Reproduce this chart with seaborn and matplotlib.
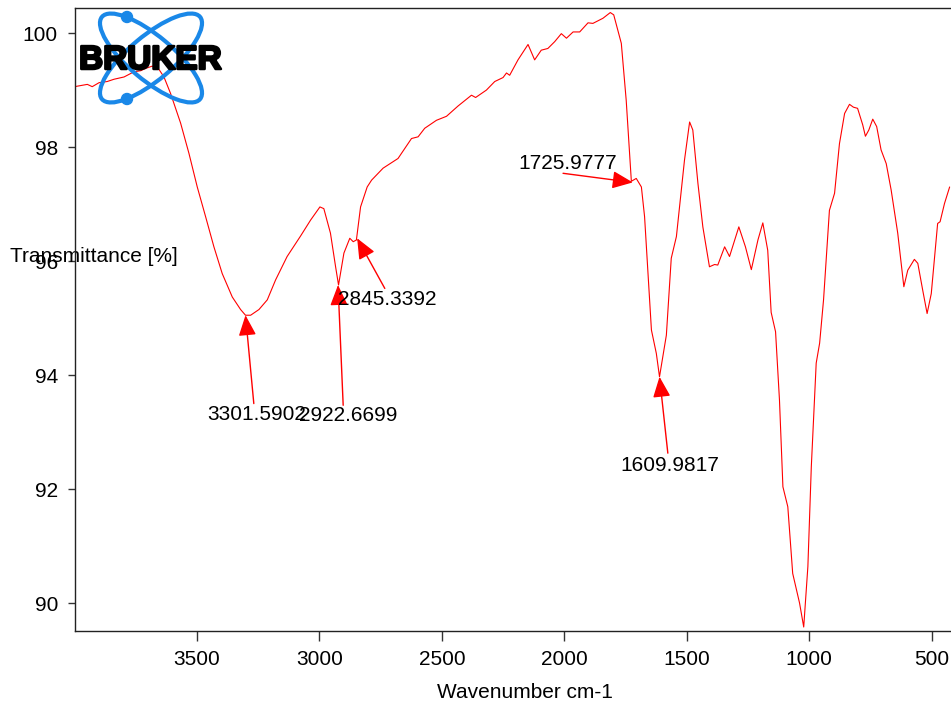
import matplotlib
matplotlib.use("Agg")
import matplotlib.pyplot as plt
import seaborn as sns
import pandas as pd
from matplotlib.patches import Ellipse, Circle
import matplotlib.patheffects as pe

# ---------------- data ----------------
wavenumber = [4000, 3948, 3928, 3900, 3867, 3839, 3798, 3758, 3730, 3710, 3683, 3655, 3635,
              3608, 3567, 3533, 3499, 3465, 3431, 3397, 3356, 3322, 3302, 3281, 3247, 3213,
              3179, 3132, 3077, 3036, 2998, 2982, 2955, 2934, 2922, 2900, 2876, 2862, 2849,
              2832, 2805, 2787, 2740, 2679, 2624, 2597, 2570, 2522, 2481, 2434, 2379, 2362,
              2318, 2284, 2250, 2236, 2223, 2189, 2148, 2121, 2094, 2067, 2039, 2012, 1991,
              1964, 1937, 1903, 1883, 1842, 1812, 1798, 1767, 1747, 1726, 1706, 1685, 1672,
              1644, 1624, 1611, 1583, 1563, 1542, 1529, 1509, 1488, 1475, 1454, 1434, 1407,
              1386, 1373, 1345, 1325, 1287, 1260, 1236, 1209, 1189, 1169, 1155, 1137, 1121,
              1107, 1087, 1067, 1039, 1022, 1005, 991, 971, 957, 941, 917, 896, 876, 855,
              835, 819, 802, 781, 770, 756, 740, 724, 706, 685, 665, 638, 613, 597, 570,
              556, 536, 518, 501, 475, 465, 447, 426]
transmittance = [99.06, 99.10, 99.06, 99.13, 99.15, 99.19, 99.23, 99.32, 99.34, 99.38, 99.42,
                 99.36, 99.23, 98.94, 98.42, 97.89, 97.30, 96.78, 96.25, 95.78, 95.37, 95.15,
                 95.05, 95.05, 95.15, 95.32, 95.67, 96.08, 96.44, 96.72, 96.95, 96.92, 96.49,
                 95.90, 95.58, 96.14, 96.40, 96.34, 96.37, 96.95, 97.30, 97.42, 97.63, 97.80,
                 98.15, 98.18, 98.33, 98.47, 98.54, 98.72, 98.91, 98.87, 99.00, 99.15, 99.22,
                 99.30, 99.26, 99.53, 99.80, 99.53, 99.70, 99.73, 99.85, 99.99, 99.91, 100.02,
                 100.02, 100.18, 100.17, 100.26, 100.36, 100.32, 99.82, 98.82, 97.40, 97.45,
                 97.30, 96.78, 94.79, 94.38, 93.97, 94.70, 96.05, 96.43, 96.95, 97.77, 98.44,
                 98.30, 97.36, 96.60, 95.90, 95.94, 95.93, 96.25, 96.08, 96.60, 96.25, 95.85,
                 96.37, 96.67, 96.19, 95.10, 94.76, 93.56, 92.04, 91.69, 90.52, 90.00, 89.58,
                 90.64, 92.39, 94.21, 94.56, 95.32, 96.89, 97.19, 98.06, 98.59, 98.75, 98.70,
                 98.68, 98.39, 98.19, 98.30, 98.49, 98.36, 97.95, 97.71, 97.25, 96.49, 95.55,
                 95.84, 96.03, 95.96, 95.49, 95.08, 95.43, 96.66, 96.69, 97.01, 97.30]

peak_labels = ["3301.5902", "2922.6699", "2845.3392", "1725.9777", "1609.9817"]
peak_tip_x = [3302, 2924, 2846, 1720, 1611]
peak_tip_y = [95.05, 95.58, 96.40, 97.38, 93.97]
peak_tail_x = [3268, 2903, 2733, 2005, 1577]
peak_tail_y = [93.50, 93.47, 95.52, 97.54, 92.63]
peak_text_x = [3256, 2884, 2721, 1988, 1567]
peak_text_y = [93.30, 93.29, 95.33, 97.72, 92.41]

x_ticks = [3500, 3000, 2500, 2000, 1500, 1000, 500]
y_ticks = [90, 92, 94, 96, 98, 100]

# ---------------- style ----------------
sns.set_style("ticks")
plt.rcParams["font.family"] = ["Liberation Sans", "DejaVu Sans"]
plt.rcParams["font.size"] = 15
plt.rcParams["text.color"] = "black"
plt.rcParams["axes.labelcolor"] = "black"
plt.rcParams["xtick.labelcolor"] = "black"
plt.rcParams["ytick.labelcolor"] = "black"

W, H = 951, 711
fig = plt.figure(figsize=(W / 100, H / 100), dpi=100)
ax_left, ax_right, ax_top, ax_bottom = 74.6, 956.0, 8.0, 631.0
ax = fig.add_axes([ax_left / W, 1 - ax_bottom / H, (ax_right - ax_left) / W, (ax_bottom - ax_top) / H])

df = pd.DataFrame({"wn": wavenumber, "T": transmittance})
sns.lineplot(data=df, x="wn", y="T", color="red", lw=0.8, ax=ax, sort=True)

ax.set_xlim(4000, 400)
ax.set_ylim(89.51, 100.44)
ax.set_xticks(x_ticks)
ax.set_yticks(y_ticks)
ax.set_xticklabels([str(v) for v in x_ticks])
ax.set_yticklabels([str(v) for v in y_ticks])
ax.tick_params(axis="x", length=7.5, width=1, pad=6, labelsize=15, color="#333333",
               labelcolor="black")
ax.tick_params(axis="y", length=5, width=1, pad=7, labelsize=15, color="#333333",
               labelcolor="black")
for s in ["left", "bottom", "top"]:
    ax.spines[s].set_visible(True)
    ax.spines[s].set_color("#222222")
    ax.spines[s].set_linewidth(1.0)
ax.spines["right"].set_visible(False)

axw = ax_right - ax_left
axh = ax_bottom - ax_top
ax.set_ylabel("Transmittance [%]", rotation=0, ha="left", va="center", fontsize=15,
              color="black")
ax.yaxis.set_label_coords((10 - ax_left) / axw, (ax_bottom - 256.7) / axh)
ax.set_xlabel("Wavenumber cm-1", ha="center", va="center", fontsize=15, color="black")
ax.xaxis.set_label_coords((524.6 - ax_left) / axw, (ax_bottom - 693) / axh)

for lab, tx, ty, sx, sy, lx, ly in zip(peak_labels, peak_tip_x, peak_tip_y, peak_tail_x,
                                       peak_tail_y, peak_text_x, peak_text_y):
    ax.annotate("", xy=(tx, ty), xytext=(sx, sy),
                arrowprops=dict(arrowstyle="-|>,head_length=0.7,head_width=0.3", color="red",
                                lw=1.0, shrinkA=0, shrinkB=0, mutation_scale=18))
    ax.text(lx, ly, lab, ha="center", va="center", fontsize=15, color="black")

# ---------------- logo overlay ----------------
ov = fig.add_axes([0, 0, 1, 1], zorder=5)
ov.set_xlim(0, W)
ov.set_ylim(H, 0)
ov.axis("off")
ov.patch.set_alpha(0)
blue = "#1a88e8"
cx, cy = 151, 58
for ang in (40, -40):
    ov.add_patch(Ellipse((cx, cy), 128, 44, angle=ang, fill=False, ec=blue, lw=3.0))
for dy in (17, 99):
    ov.add_patch(Circle((127, dy), 5.5, color=blue))
ov.text(150.5, 69, "BRUKER", ha="center", va="baseline", fontsize=24, fontweight="bold",
        color="black", path_effects=[pe.withStroke(linewidth=1.8, foreground="black")])

fig.savefig("out.png", dpi=100)
